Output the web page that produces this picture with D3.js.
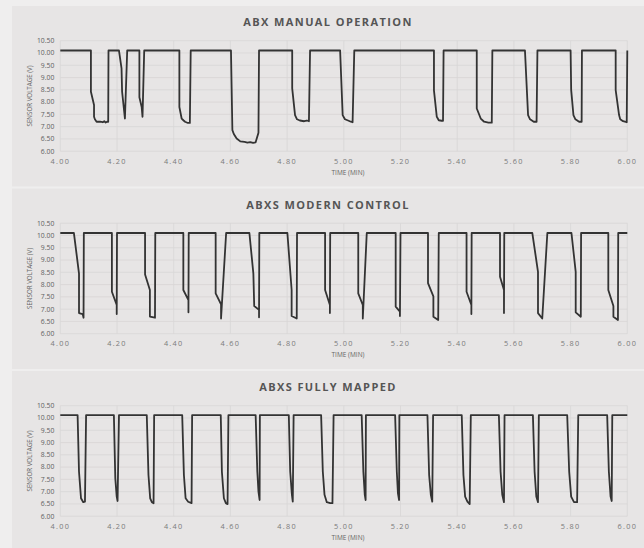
<!DOCTYPE html>
<html>
<head>
<meta charset="utf-8">
<script src="https://d3js.org/d3.v7.min.js"></script>
<style>
body { margin: 0; background: #efeeee; }
svg { display: block; }
</style>
</head>
<body>
<svg width="644" height="548"></svg>
<script>
// panel titles
var titles = ["ABX MANUAL OPERATION", "ABXS MODERN CONTROL", "ABXS FULLY MAPPED"];
var xTicks = [4.0, 4.2, 4.4, 4.6, 4.8, 5.0, 5.2, 5.4, 5.6, 5.8, 6.0];
var yTicks = [6.0, 6.5, 7.0, 7.5, 8.0, 8.5, 9.0, 9.5, 10.0, 10.5];

// ABX manual operation
var manualT = [4.000,4.108,4.108,4.119,4.119,4.122,4.128,4.140,4.150,4.155,4.160,4.165,4.169,4.170,
  4.207,4.216,4.218,4.228,4.236,
  4.279,4.279,4.287,4.290,4.296,
  4.420,4.420,4.428,4.435,4.440,4.450,4.457,4.460,
  4.602,4.607,4.612,4.622,4.635,4.650,4.660,4.670,4.680,4.689,4.699,4.701,
  4.818,4.818,4.828,4.835,4.845,4.860,4.870,4.877,4.881,
  4.987,4.996,5.004,5.015,5.025,5.031,5.037,
  5.318,5.318,5.328,5.335,5.345,5.350,5.352,
  5.469,5.469,5.483,5.495,5.510,5.522,5.524,
  5.639,5.650,5.657,5.670,5.680,5.683,
  5.800,5.802,5.810,5.817,5.830,5.839,5.840,
  5.959,5.959,5.971,5.975,5.985,5.998,6.000];
var manualV = [10.1,10.1,8.42,7.88,7.40,7.30,7.20,7.20,7.18,7.22,7.17,7.20,7.20,10.1,
  10.1,9.37,8.42,7.33,10.1,
  10.1,8.20,7.80,7.40,10.1,
  10.1,7.80,7.33,7.25,7.20,7.15,7.15,10.1,
  10.1,6.86,6.70,6.52,6.40,6.38,6.35,6.37,6.34,6.36,6.75,10.1,
  10.1,8.56,7.47,7.30,7.25,7.22,7.25,7.22,10.1,
  10.1,7.47,7.30,7.25,7.20,7.18,10.1,
  10.1,8.48,7.40,7.26,7.24,7.24,10.1,
  10.1,7.74,7.33,7.20,7.16,7.16,10.1,
  10.1,7.47,7.30,7.20,7.20,10.1,
  10.1,8.50,7.47,7.30,7.20,7.20,10.1,
  10.1,8.49,7.47,7.30,7.22,7.18,10.1];

// ABXS modern control
var modernT = [4.000,4.048,4.066,4.066,4.079,4.082,4.083,
  4.182,4.182,4.199,4.199,4.200,
  4.299,4.299,4.316,4.316,4.334,4.335,
  4.434,4.434,4.452,4.452,4.453,
  4.548,4.548,4.567,4.567,4.585,
  4.667,4.681,4.684,4.701,4.701,4.702,
  4.801,4.816,4.816,4.834,4.835,
  4.934,4.934,4.951,4.951,4.952,
  5.051,5.051,5.067,5.067,5.081,
  5.183,5.183,5.198,5.198,5.200,
  5.297,5.297,5.316,5.316,5.333,5.335,
  5.433,5.433,5.450,5.450,5.451,
  5.551,5.551,5.565,5.565,5.566,
  5.665,5.685,5.685,5.700,5.718,
  5.803,5.818,5.818,5.836,5.837,
  5.933,5.933,5.951,5.951,5.967,5.968,6.000];
var modernV = [10.1,10.1,8.45,6.84,6.80,6.65,10.1,
  10.1,7.71,7.17,6.80,10.1,
  10.1,8.41,7.78,6.70,6.65,10.1,
  10.1,7.78,7.37,6.87,10.1,
  10.1,7.64,7.20,6.62,10.1,
  10.1,8.45,7.13,6.97,6.67,10.1,
  10.1,7.78,6.72,6.62,10.1,
  10.1,7.78,7.17,6.84,10.1,
  10.1,7.64,7.17,6.62,10.1,
  10.1,7.10,6.90,6.72,10.1,
  10.1,8.06,7.52,6.69,6.56,10.1,
  10.1,7.71,7.17,6.80,10.1,
  10.1,8.32,7.78,6.84,10.1,
  10.1,8.52,6.84,6.62,10.1,
  10.1,8.52,6.87,6.69,10.1,
  10.1,7.78,7.13,6.69,6.56,10.1,10.1];

// ABXS fully mapped
var mappedT = [4.000,4.061,4.066,4.073,4.081,4.087,4.091,
  4.189,4.194,4.199,4.202,4.207,
  4.305,4.311,4.317,4.323,4.329,4.331,
  4.430,4.436,4.442,4.451,4.463,4.465,
  4.566,4.570,4.577,4.584,4.590,4.593,
  4.689,4.695,4.699,4.703,4.704,
  4.806,4.811,4.817,4.820,4.823,
  4.920,4.926,4.932,4.940,4.952,4.960,4.964,
  5.063,5.069,5.074,5.077,5.078,
  5.181,5.187,5.191,5.195,5.196,
  5.295,5.301,5.307,5.312,5.315,
  5.416,5.422,5.428,5.436,5.444,5.448,
  5.547,5.553,5.559,5.565,5.567,
  5.667,5.673,5.679,5.685,5.688,
  5.788,5.795,5.802,5.812,5.823,5.827,
  5.929,5.935,5.941,5.945,5.947,6.000];
var mappedV = [10.12,10.12,7.81,6.73,6.57,6.59,10.12,
  10.12,7.54,6.80,6.62,10.12,
  10.12,7.68,6.73,6.57,6.53,10.12,
  10.12,7.68,6.73,6.59,6.53,10.12,
  10.12,7.81,6.73,6.53,6.49,10.12,
  10.12,7.81,7.00,6.66,10.12,
  10.12,7.81,6.87,6.59,10.12,
  10.12,7.81,6.87,6.57,6.53,6.53,10.12,
  10.12,7.81,6.87,6.66,10.12,
  10.12,7.81,6.93,6.66,10.12,
  10.12,7.68,6.87,6.59,10.12,
  10.12,7.68,6.80,6.59,6.49,10.12,
  10.12,7.81,6.87,6.57,10.12,
  10.12,7.81,6.80,6.57,10.12,
  10.12,7.81,6.80,6.57,6.57,10.12,
  10.12,7.81,6.80,6.62,10.12,10.12];

var seriesT = [manualT, modernT, mappedT];
var seriesV = [manualV, modernV, mappedV];

var svg = d3.select("svg");
var panelTops = [6, 188.5, 371];
var panelH = 180.5;
var plotTop = 34.7;

var x = d3.scaleLinear().domain([4, 6]).range([60.3 - 12, 627.3 - 12]);
var plotH = 110.5;
var y = d3.scaleLinear().domain([6, 10.5]).range([plotH, 0]);

var line = d3.line()
  .x(function(d){ return x(d[0]); })
  .y(function(d){ return y(d[1]); });

for (var p = 0; p < 3; p++) {
  var g = svg.append("g").attr("transform", "translate(12," + panelTops[p] + ")");
  g.append("rect").attr("width", 632).attr("height", panelH).attr("fill", "#e7e5e5");

  var plot = g.append("g").attr("transform", "translate(0," + plotTop + ")");

  // grid
  plot.selectAll("line.h").data(yTicks).enter().append("line")
    .attr("x1", x(4)).attr("x2", x(6))
    .attr("y1", function(d){ return y(d); }).attr("y2", function(d){ return y(d); })
    .attr("stroke", "#d8d6d6").attr("stroke-width", 0.8);
  plot.selectAll("line.v").data(xTicks).enter().append("line")
    .attr("y1", 0).attr("y2", plotH)
    .attr("x1", function(d){ return x(d); }).attr("x2", function(d){ return x(d); })
    .attr("stroke", "#d8d6d6").attr("stroke-width", 0.8);

  // y tick labels
  plot.selectAll("text.yt").data(yTicks).enter().append("text")
    .attr("x", x(4) - 6).attr("y", function(d){ return y(d); })
    .attr("dy", "0.35em").attr("text-anchor", "end")
    .attr("font-family", "Open Sans").attr("font-size", 6.8).attr("fill", "#606060")
    .text(function(d){ return d.toFixed(2); });

  // x tick labels
  plot.selectAll("text.xt").data(xTicks).enter().append("text")
    .attr("x", function(d){ return x(d); }).attr("y", plotH + 10)
    .attr("dy", "0.35em").attr("text-anchor", "middle")
    .attr("font-family", "Open Sans").attr("font-size", 7.3).attr("fill", "#7a7a7a")
    .attr("letter-spacing", 1.3)
    .text(function(d){ return d.toFixed(2); });

  // axis titles
  plot.append("text")
    .attr("x", 336).attr("y", plotH + 21.5).attr("dy", "0.35em")
    .attr("text-anchor", "middle").attr("font-family", "Open Sans")
    .attr("font-size", 6.5).attr("fill", "#666")
    .text("TIME (MIN)");
  plot.append("text")
    .attr("transform", "translate(18," + (plotH / 2) + ") rotate(-90)")
    .attr("dy", "0.35em").attr("text-anchor", "middle")
    .attr("font-family", "Open Sans").attr("font-size", 6.2).attr("fill", "#666")
    .text("SENSOR VOLTAGE (V)");

  // panel title
  g.append("text")
    .attr("x", 316).attr("y", 16.5).attr("dy", "0.35em")
    .attr("text-anchor", "middle").attr("font-family", "Open Sans")
    .attr("font-weight", "bold").attr("font-size", 11).attr("letter-spacing", 1.4)
    .attr("fill", "#555")
    .text(titles[p]);

  // series
  var pts = d3.zip(seriesT[p], seriesV[p]);
  plot.append("path").datum(pts)
    .attr("d", line)
    .attr("fill", "none").attr("stroke", "#333")
    .attr("stroke-width", 1.8).attr("stroke-linejoin", "round");
}
</script>
</body>
</html>
